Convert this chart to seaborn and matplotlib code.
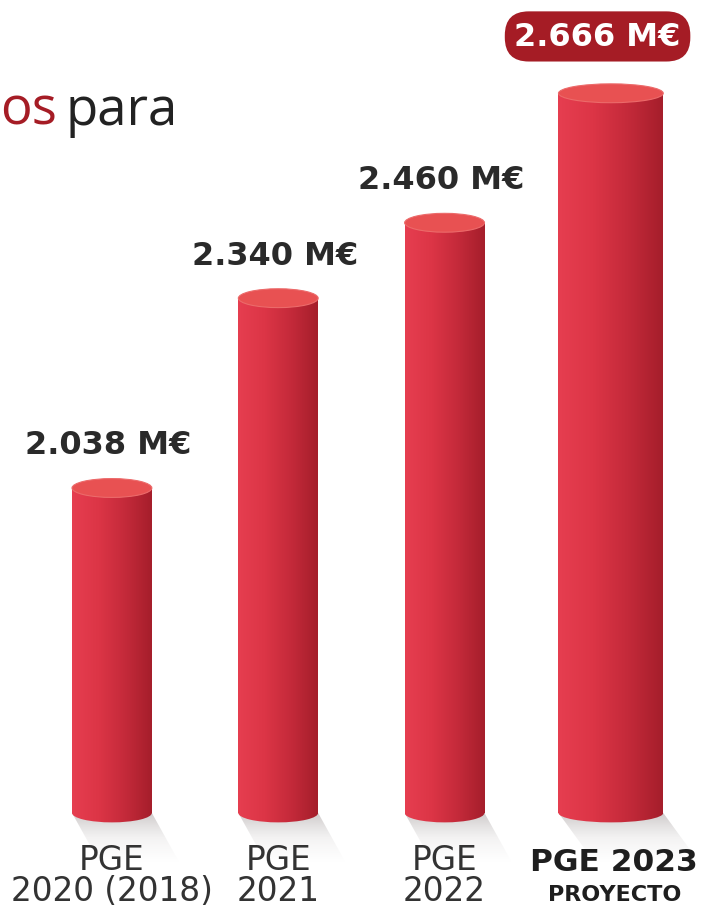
import numpy as np
import pandas as pd
import matplotlib
matplotlib.use("Agg")
import matplotlib.pyplot as plt
import seaborn as sns
from matplotlib.patches import Ellipse, Polygon
from matplotlib.colors import LinearSegmentedColormap

# ------------------------------------------------------
# Datos
# ------------------------------------------------------
categorias = ["PGE 2020", "PGE 2021", "PGE 2022", "PGE 2023"]
valores = [2038, 2340, 2460, 2666]
etiquetas_valor = ["2.038 M€", "2.340 M€", "2.460 M€", "2.666 M€"]
linea1 = ["PGE", "PGE", "PGE", "PGE 2023"]
linea2 = ["2020 (2018)", "2021", "2022", "PROYECTO"]

base = 1521          # base visual de los cilindros
anchos = [0.48, 0.48, 0.48, 0.63]

df = pd.DataFrame({"cat": categorias, "altura": [v - base for v in valores]})

# ------------------------------------------------------
# Figura
# ------------------------------------------------------
sns.set_theme(style="white")
plt.rcParams["font.family"] = ["DejaVu Sans"]

fig = plt.figure(figsize=(7.07, 9.12), dpi=100)
ax = fig.add_axes([0, 0, 1, 1])

sns.barplot(data=df, x="cat", y="altura", bottom=base, width=0.48,
            color="#dc3545", ax=ax, zorder=3)

ax.set_xlim(-0.673, 3.578)
ax.set_ylim(1365, 2816)
ax.axis("off")

cmap = LinearSegmentedColormap.from_list("cil", ["#e63e50", "#dc3546", "#c42a3a", "#a51e2b"])
grad = np.linspace(0, 1, 256).reshape(1, -1)
# sombra: oscura junto al cilindro, se desvanece hacia abajo
sombra_cmap = LinearSegmentedColormap.from_list(
    "sombra", [(0.5, 0.45, 0.45, 0.38), (0.6, 0.58, 0.58, 0.12), (0.7, 0.7, 0.7, 0.0)])

elip_h = 30  # alto de las elipses en unidades de datos

for i, p in enumerate(ax.patches):
    cx = p.get_x() + p.get_width() / 2
    w = anchos[i]
    x0 = cx - w / 2
    p.set_x(x0)
    p.set_width(w)
    top = p.get_y() + p.get_height()
    p.set_facecolor("none")
    p.set_edgecolor("none")

    # sombra
    sh = Polygon([(x0, base), (x0 + w, base), (x0 + w * 1.35, base - 80),
                  (x0 + w * 0.35, base - 80)], closed=True,
                 facecolor="none", edgecolor="none", transform=ax.transData)
    ax.add_patch(sh)
    im = ax.imshow(np.linspace(0, 1, 64).reshape(-1, 1), cmap=sombra_cmap,
                   extent=(x0, x0 + w * 1.35, base - 80, base), aspect="auto",
                   zorder=1, interpolation="bilinear")
    im.set_clip_path(sh)

    # cuerpo con degradado
    im = ax.imshow(grad, cmap=cmap, extent=(x0, x0 + w, base, top),
                   aspect="auto", zorder=3, interpolation="bilinear")
    im.set_clip_path(p)

    # base redondeada
    eb = Ellipse((cx, base), w, elip_h, facecolor="none", edgecolor="none")
    ax.add_patch(eb)
    im = ax.imshow(grad, cmap=cmap, extent=(x0, x0 + w, base - elip_h, base + elip_h),
                   aspect="auto", zorder=2.9, interpolation="bilinear")
    im.set_clip_path(eb)

    # tapa superior
    ax.add_patch(Ellipse((cx, top), w, elip_h, facecolor="#e85152",
                         edgecolor="#ec6a6a", linewidth=0.8, zorder=4))

    # etiqueta de valor
    if i < 3:
        ax.text(cx - 0.02, top + 55, etiquetas_valor[i], ha="center", va="baseline",
                fontsize=23, fontweight="bold", color="#2a2a2a")
    else:
        ax.text(cx - 0.08, 2762, etiquetas_valor[i], ha="center", va="center_baseline",
                fontsize=23, fontweight="bold", color="white",
                bbox=dict(boxstyle="round,pad=0.3,rounding_size=0.75",
                          facecolor="#a51c25", edgecolor="none"))

    # etiquetas inferiores
    if i < 3:
        ax.text(cx, 1371, linea1[i] + "\n" + linea2[i], ha="center", va="bottom",
                multialignment="center", linespacing=0.92,
                fontsize=23.5, color="#333333")
    else:
        ax.text(cx + 0.02, 1431, linea1[i], ha="center", va="baseline",
                fontsize=22.5, fontweight="bold", color="#1e1e1e")
        ax.text(cx + 0.02, 1383, linea2[i], ha="center", va="baseline",
                fontsize=16, fontweight="bold", color="#1e1e1e")

# fragmento de título
fig.text(0.0, 0.863, "os", fontsize=38, color="#a51c25", ha="left", va="baseline",
         family=["Open Sans", "DejaVu Sans"])
fig.text(0.093, 0.863, "para", fontsize=38, color="#222222", ha="left", va="baseline",
         family=["Open Sans", "DejaVu Sans"])

fig.savefig("out.png", dpi=100)
